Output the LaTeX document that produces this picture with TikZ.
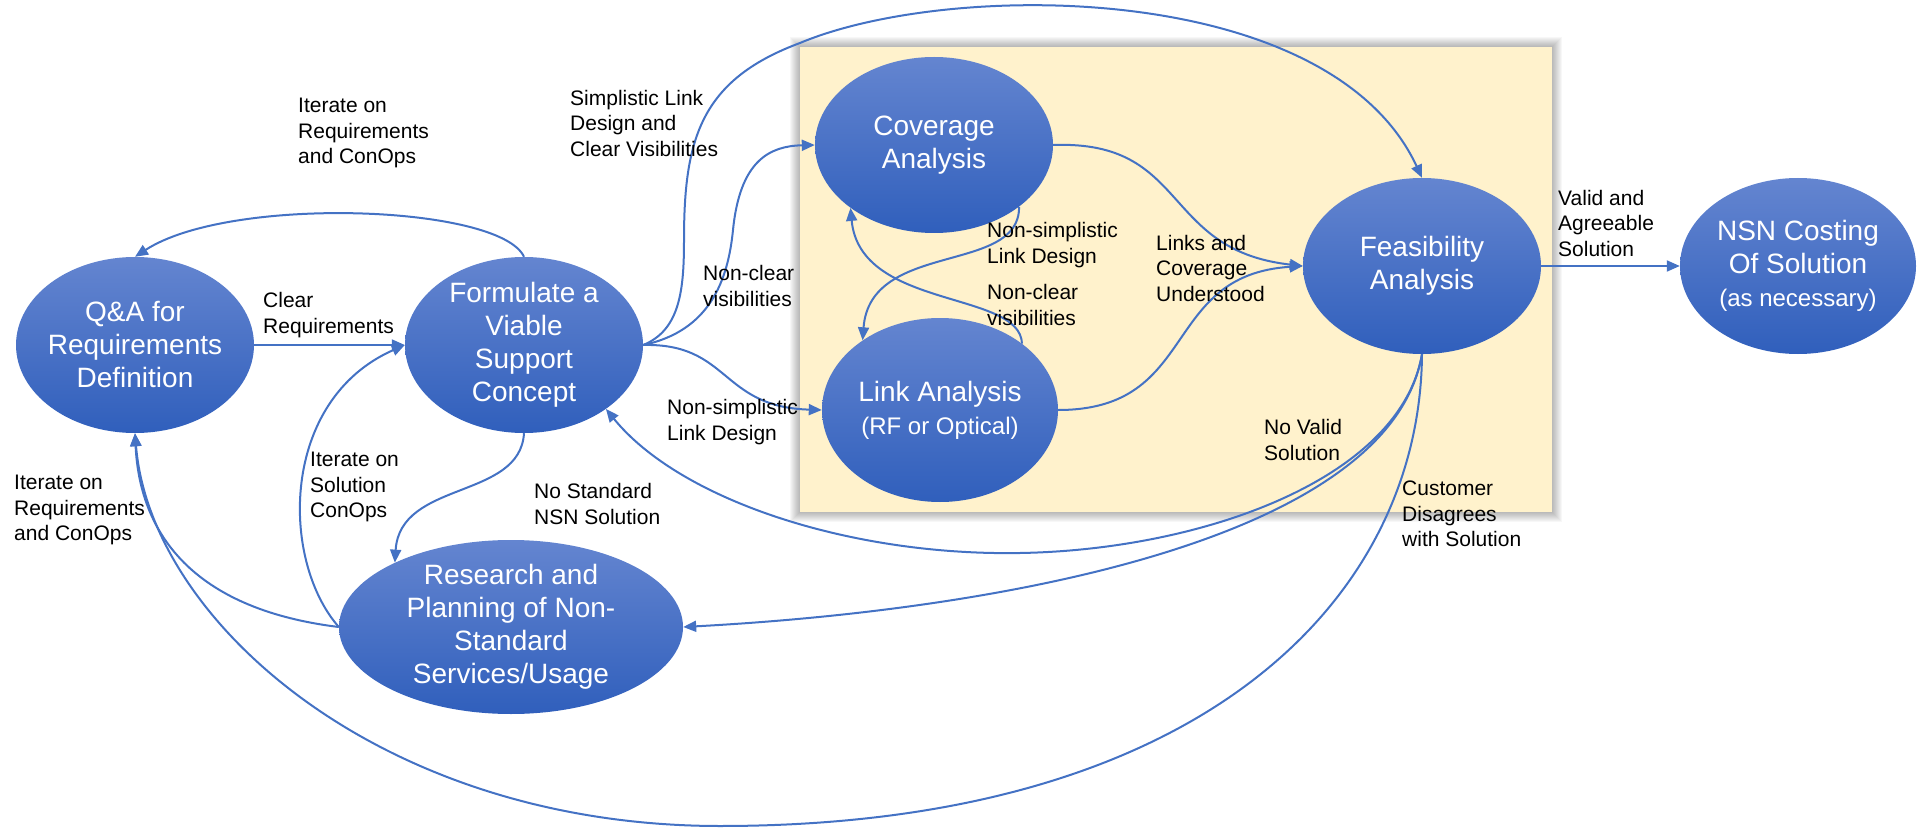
\documentclass[tikz,border=0pt]{standalone}
\usepackage{fontspec}
\setmainfont{Liberation Sans}
\usetikzlibrary{shapes.geometric, arrows.meta}
\definecolor{lineblue}{RGB}{68,114,196}
\definecolor{bubtop}{RGB}{100,133,208}
\definecolor{bubbot}{RGB}{48,95,188}
\definecolor{panelfill}{RGB}{255,242,204}

\begin{document}
\begin{tikzpicture}[x=1pt, y=-1pt,
  bub/.style={ellipse, inner xsep=-4pt, inner ysep=-4pt, top color=bubtop, bottom color=bubbot,
    text=white, align=center, font=\fontsize{28}{33}\selectfont,
    minimum width=238pt, minimum height=176pt},
  lbl/.style={anchor=west, align=left, inner sep=0pt, font=\fontsize{21}{25.5}\selectfont},
  flow/.style={draw=lineblue, line width=2pt, -{Triangle[length=13pt,width=11pt]}},
]
\useasboundingbox (0,0) rectangle (1923,829);

% analysis panel with a soft shadow
\foreach \g in {1,...,10}
  \fill[black, opacity=0.03] ({800-\g},{47-\g}) rectangle ({1552+\g},{512+\g});
\node[fill=panelfill, minimum width=752pt, minimum height=465pt, inner sep=0pt] (panel) at (1176,279.5) {};

% process steps
\node[bub] (qa) at (135,345) {Q\&A for\\Requirements\\Definition};
\node[bub] (fo) at (524,345) {Formulate a\\Viable\\Support\\Concept};
\node[bub, minimum width=344pt, minimum height=174pt] (re) at (511,627) {Research and\\Planning of Non-\\Standard\\Services/Usage};
\node[bub] (co) at (934,145) {Coverage\\Analysis};
\node[bub, minimum width=236pt, minimum height=184pt] (li) at (940,410) {Link Analysis\\{\fontsize{24}{31}\selectfont(RF or Optical)}};
\node[bub] (fe) at (1422,266) {Feasibility\\Analysis};
\node[bub, minimum width=236pt] (ns) at (1798,266) {NSN Costing\\Of Solution\\{\fontsize{24}{33}\selectfont(as necessary)}};

% connectors
\draw[flow] (fo.north) .. controls (500,205) and (230,195) .. (qa.north);
\draw[flow] (qa.east) -- (fo.west);
\draw[flow] (fo.east) .. controls (710,331) and (728,280) .. (733,230)
                      .. controls (740,160) and (770,146) .. (co.west);
\draw[flow] (fo.east) .. controls (680,330) and (684,290) .. (684,240)
                      .. controls (684,140) and (700,80) .. (800,43)
                      .. controls (950,-20) and (1330,-20) .. (fe.north);
\draw[flow] (fo.east) .. controls (730,343) and (720,407) .. (li.west);
\draw[flow] (co.-36) .. controls (1020,275) and (870,240) .. (li.138);
\draw[flow] (li.39) .. controls (1020,290) and (860,310) .. (co.-143);
\draw[flow] (co.east) .. controls (1190,140) and (1160,250) .. (fe.west);
\draw[flow] (li.east) .. controls (1200,410) and (1160,275) .. (fe.west);
\draw[flow] (fe.east) -- (ns.west);
\draw[flow] (fe.south) .. controls (1400,480) and (1200,550) .. (1020,553)
                       .. controls (850,556) and (680,500) .. (fo.-38);
\draw[flow] (fe.south) .. controls (1390,540) and (1000,610) .. (re.east);
\draw[flow] (fe.south) .. controls (1420,600) and (1200,826) .. (720,826)
                       .. controls (380,826) and (150,620) .. (qa.south);
\draw[flow] (re.west) .. controls (200,610) and (140,540) .. (qa.south);
\draw[flow] (re.west) .. controls (280,560) and (280,400) .. (fo.west);
\draw[flow] (fo.south) .. controls (520,500) and (400,480) .. (re.151);

% connector labels
\node[lbl] (l1) at (298,133) {Iterate on\\Requirements\\and ConOps};
\node[lbl] (l2) at (570,123) {Simplistic Link\\Design and\\Clear Visibilities};
\node[lbl] (l3) at (263,315) {Clear\\Requirements};
\node[lbl] (l4) at (703,286) {Non-clear\\visibilities};
\node[lbl] (l5) at (667,422) {Non-simplistic\\Link Design};
\node[lbl] (l6) at (987,245) {Non-simplistic\\Link Design};
\node[lbl] (l7) at (987,305) {Non-clear\\visibilities};
\node[lbl] (l8) at (1156,268) {Links and\\Coverage\\Understood};
\node[lbl] (l9) at (1558,223) {Valid and\\Agreeable\\Solution};
\node[lbl] (l10) at (1264,440) {No Valid\\Solution};
\node[lbl] (l11) at (1402,514) {Customer\\Disagrees\\with Solution};
\node[lbl] (l12) at (534,504) {No Standard\\NSN Solution};
\node[lbl] (l13) at (310,487) {Iterate on\\Solution\\ConOps};
\node[lbl] (l14) at (14,510) {Iterate on\\Requirements\\and ConOps};
\end{tikzpicture}
\end{document}
